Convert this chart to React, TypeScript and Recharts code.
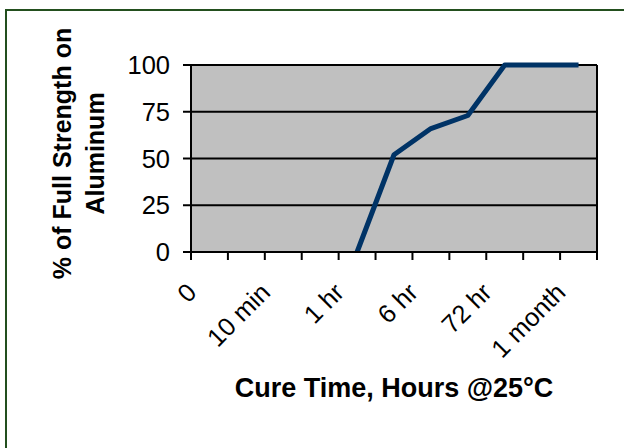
import React from "react";
import { LineChart, Line, XAxis, YAxis, CartesianGrid, Label } from "recharts";

const categories = ["0", "", "10 min", "", "1 hr", "", "6 hr", "", "72 hr", "", "1 month"];
const strength: (number | null)[] = [null, null, null, null, 0, 52, 66, 73, 100, 100, 100];
const yTicks = [0, 25, 50, 75, 100];
const xTitle = "Cure Time, Hours @25°C";
const yTitleLines = ["% of Full Strength on", "Aluminum"];

const FONT = "'Liberation Sans', Arial, sans-serif";

const data = categories.map((c, i) => ({ pos: i + 0.5, label: c, strength: strength[i] }));
const boundaryTicks = [...categories.map((_, i) => i), categories.length];
const labelTicks = categories.map((c, i) => (c ? i + 0.5 : null)).filter((v) => v !== null) as number[];

const EmptyTick = () => <g />;

const YTick = (props: any) => {
  const { x, y, payload } = props;
  return (
    <text x={x} y={y} textAnchor="end" dy="0.36em" fontSize={25.5} fontFamily={FONT} fill="#000">
      {payload.value}
    </text>
  );
};

const XTick = (props: any) => {
  const { x, y, payload } = props;
  const label = categories[Math.floor(payload.value)];
  return (
    <text
      transform={`translate(${x - 11.5},${y}) rotate(-45)`}
      textAnchor="end"
      fontSize={25.5}
      fontFamily={FONT}
      fill="#000"
    >
      {label}
    </text>
  );
};

const XTitle = (props: any) => {
  const vb = props.viewBox;
  return (
    <text
      x={vb.x + vb.width / 2}
      y={vb.y + 135}
      textAnchor="middle"
      fontSize={27}
      fontWeight="bold"
      fontFamily={FONT}
      fill="#000"
    >
      {xTitle}
    </text>
  );
};

const YTitle = (props: any) => {
  const vb = props.viewBox;
  const cy = vb.y + vb.height / 2 - 5;
  const xs = [71, 104];
  return (
    <g>
      {yTitleLines.map((t, i) => (
        <text
          key={i}
          transform={`translate(${xs[i]},${cy}) rotate(-90)`}
          textAnchor="middle"
          fontSize={25}
          fontWeight="bold"
          fontFamily={FONT}
          fill="#000"
        >
          {t}
        </text>
      ))}
    </g>
  );
};

export default function App() {
  return (
    <div style={{ position: "absolute", left: 0, top: 0, width: 624, height: 448, background: "#fff" }}>
      <LineChart width={624} height={448} data={data} margin={{ top: 65, right: 27, bottom: 0, left: 0 }}>
        <CartesianGrid
          xAxisId="a"
          fill="#C0C0C0"
          fillOpacity={1}
          stroke="#000"
          strokeWidth={2}
          horizontal
          vertical
          verticalCoordinatesGenerator={(p: any) => [p.offset.left, p.offset.left + p.offset.width]}
        />
        <XAxis
          xAxisId="a"
          dataKey="pos"
          type="number"
          domain={[0, categories.length]}
          ticks={boundaryTicks}
          interval={0}
          tick={<EmptyTick />}
          tickSize={8}
          tickLine={{ stroke: "#000", strokeWidth: 2 }}
          axisLine={{ stroke: "#000", strokeWidth: 2 }}
          height={10}
        />
        <XAxis
          xAxisId="b"
          dataKey="pos"
          type="number"
          domain={[0, categories.length]}
          ticks={labelTicks}
          interval={0}
          tick={<XTick />}
          tickLine={false}
          axisLine={false}
          tickSize={0}
          tickMargin={32}
          height={186}
          label={<Label content={<XTitle />} />}
        />
        <YAxis
          type="number"
          domain={[0, 100]}
          ticks={yTicks}
          interval={0}
          width={191}
          tickSize={8}
          tickMargin={13}
          tick={<YTick />}
          tickLine={{ stroke: "#000", strokeWidth: 2 }}
          axisLine={{ stroke: "#000", strokeWidth: 2 }}
          label={<Label content={<YTitle />} />}
        />
        <Line
          xAxisId="a"
          type="linear"
          dataKey="strength"
          stroke="#003366"
          strokeWidth={5}
          strokeLinejoin="round"
          dot={false}
          activeDot={false}
          isAnimationActive={false}
        />
      </LineChart>
      <div
        style={{
          position: "absolute",
          left: 5,
          top: 9,
          width: 619,
          height: 439,
          boxSizing: "border-box",
          borderTop: "2px solid #234F1E",
          borderLeft: "2px solid #234F1E",
          pointerEvents: "none",
        }}
      />
    </div>
  );
}
